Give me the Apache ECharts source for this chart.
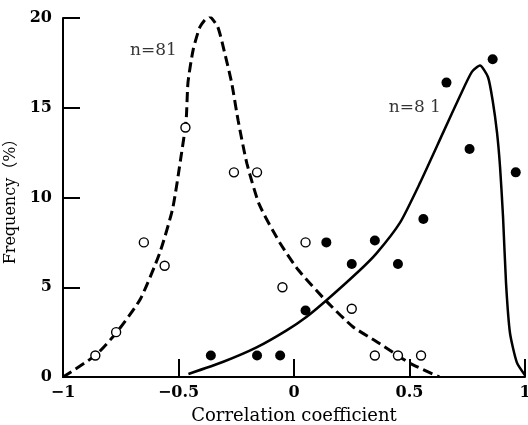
<!DOCTYPE html>
<html>
<head>
    <meta charset="utf-8"/>
    <title>Correlation coefficient</title>
    <script src="https://cdn.jsdelivr.net/npm/echarts@6/dist/echarts.min.js"></script>
</head>
<body style="margin:0;background:#fff;">

<div id="main" style="width: 528px;height:425px;"></div>

<script>
    // open circles (dashed curve)
    var openX = [-0.86, -0.77, -0.65, -0.56, -0.47, -0.37, -0.26, -0.16, -0.05, 0.05, 0.25, 0.35, 0.45, 0.55];
    var openY = [1.2, 2.5, 7.5, 6.2, 13.9, 20.1, 11.4, 11.4, 5.0, 7.5, 3.8, 1.2, 1.2, 1.2];
    // filled circles (solid curve)
    var fillX = [-0.36, -0.16, -0.06, 0.05, 0.14, 0.25, 0.35, 0.45, 0.56, 0.66, 0.76, 0.86, 0.96];
    var fillY = [1.2, 1.2, 1.2, 3.7, 7.5, 6.3, 7.6, 6.3, 8.8, 16.4, 12.7, 17.7, 11.4];
    // fitted curves
    var dashX = [-1, -0.86, -0.77, -0.665, -0.58, -0.525, -0.49, -0.467, -0.459, -0.437, -0.407, -0.368, -0.33, -0.30, -0.27, -0.242, -0.204, -0.15, -0.06, 0.019, 0.142, 0.255, 0.358, 0.50, 0.63];
    var dashY = [0, 1.2, 2.45, 4.35, 6.96, 9.4, 12.2, 14.3, 16.4, 18.2, 19.5, 20.1, 19.5, 18.05, 16.4, 14.3, 11.9, 9.6, 7.45, 5.96, 4.2, 2.8, 1.97, 0.78, 0];
    var solidX = [-0.457, -0.306, -0.162, -0.032, 0.055, 0.142, 0.286, 0.358, 0.459, 0.545, 0.645, 0.72, 0.77, 0.805, 0.84, 0.86, 0.879, 0.892, 0.905, 0.918, 0.935, 0.965, 1.0];
    var solidY = [0.17, 0.85, 1.65, 2.6, 3.36, 4.29, 5.96, 6.9, 8.6, 10.8, 13.6, 15.7, 17.0, 17.35, 16.7, 15.4, 13.6, 11.7, 8.9, 5.2, 2.45, 0.8, 0.1];
    // axis ticks
    var xTicks = [-1, -0.5, 0, 0.5, 1];
    var yTicks = [0, 5, 10, 15, 20];
    // annotations
    var notes = [['n=81', -0.71, 18.2], ['n=8 1', 0.41, 15.0]];

    function pairs(xs, ys) {
        var out = [];
        for (var i = 0; i < xs.length; i++) out.push([xs[i], ys[i]]);
        return out;
    }

    var serif = 'DejaVu Serif';
    var myChart = echarts.init(document.getElementById('main'));

    var option = {
        animation: false,
        grid: {left: 63, right: 3, top: 18, bottom: 48, outerBoundsMode: 'none', containLabel: false},
        xAxis: {
            type: 'value',
            min: xTicks[0], max: xTicks[xTicks.length - 1], interval: 0.5,
            name: 'Correlation coefficient',
            nameLocation: 'middle',
            nameGap: 30,
            nameTextStyle: {fontFamily: serif, fontSize: 18, color: '#000'},
            axisLine: {onZero: false, lineStyle: {color: '#000', width: 2}},
            axisTick: {inside: true, length: 18, lineStyle: {color: '#000', width: 2}},
            axisLabel: {
                fontFamily: serif, fontSize: 16, fontWeight: 'bold', color: '#000', margin: 8,
                formatter: function (v) { return String(v).replace('-', '\u2212'); }
            },
            splitLine: {show: false}
        },
        yAxis: {
            type: 'value',
            min: yTicks[0], max: yTicks[yTicks.length - 1], interval: 5,
            name: 'Frequency（%）',
            nameLocation: 'middle',
            nameGap: 36,
            nameTextStyle: {fontFamily: serif + ', Noto Sans CJK JP', fontSize: 16, color: '#000'},
            axisLine: {onZero: false, lineStyle: {color: '#000', width: 2}},
            axisTick: {inside: true, length: 17, lineStyle: {color: '#000', width: 2}},
            axisLabel: {fontFamily: serif, fontSize: 16, fontWeight: 'bold', color: '#000', margin: 11},
            splitLine: {show: false}
        },
        series: [
            {
                type: 'line', data: pairs(dashX, dashY), smooth: 0.2, symbol: 'none',
                lineStyle: {color: '#000', width: 3, type: [10, 5]}, z: 2
            },
            {
                type: 'line', data: pairs(solidX, solidY), smooth: 0.2, symbol: 'none',
                lineStyle: {color: '#000', width: 2.5}, z: 2
            },
            {
                type: 'scatter', data: pairs(openX, openY), symbol: 'circle', symbolSize: 9,
                itemStyle: {color: '#fff', borderColor: '#000', borderWidth: 1.4, opacity: 1}, z: 3
            },
            {
                type: 'scatter', data: pairs(fillX, fillY), symbol: 'circle', symbolSize: 10,
                itemStyle: {color: '#000', opacity: 1}, z: 3
            },
            {
                type: 'scatter', symbolSize: 0, silent: true,
                data: notes.map(function (n) { return {value: [n[1], n[2]], name: n[0]}; }),
                label: {
                    show: true, position: 'right', distance: 0, formatter: '{b}',
                    fontFamily: serif, fontSize: 17, color: '#000'
                }
            }
        ]
    };

    myChart.setOption(option);
</script>
</body>
</html>
